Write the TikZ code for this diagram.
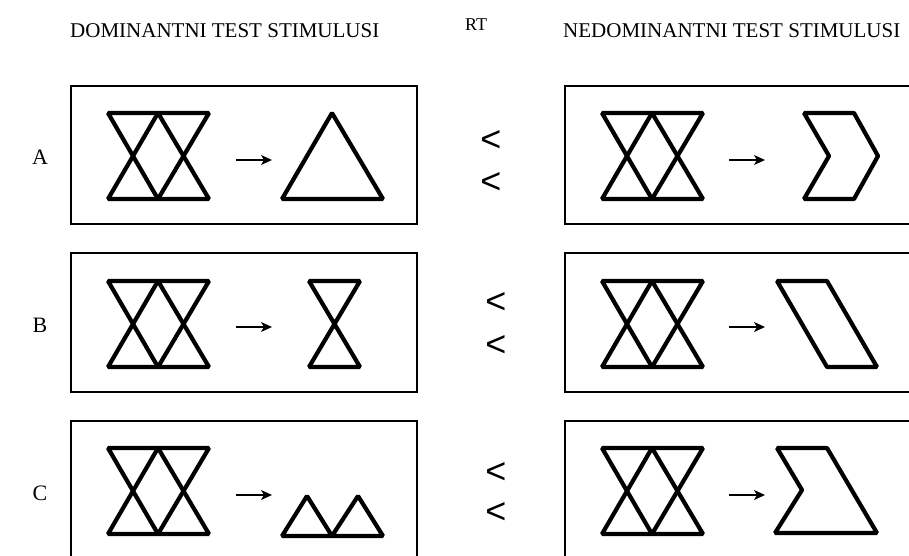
\documentclass[tikz,border=0pt]{standalone}
\usepackage{fontspec}
\setmainfont{Liberation Serif}
\newfontfamily\arialfont{Liberation Sans}
\usetikzlibrary{arrows.meta}
\tikzset{
  frame/.style={draw=black, line width=1.4pt},
  fig/.style={draw=black, line width=4.2pt, line join=bevel},
  conn/.style={draw=black, line width=1.3pt, -{Stealth[length=11pt,width=10pt,inset=3pt]}},
  head/.style={inner sep=0pt, anchor=base west, font=\fontsize{21}{25}\selectfont},
  rowlab/.style={inner sep=0pt, font=\fontsize{22}{26}\selectfont},
  lt/.style={inner sep=0pt, font=\arialfont\fontsize{36}{40}\selectfont},
}
\begin{document}
\begin{tikzpicture}[x=1pt,y=-1pt]
\useasboundingbox (0,0) rectangle (909,555);
\clip (0,0) rectangle (909,555);
% headers
\node[head] (h1) at (70,37) {DOMINANTNI TEST STIMULUSI};
\node[head, font=\fontsize{18}{21}\selectfont] (h2) at (465,30) {RT};
\node[head] (h3) at (563,37) {NEDOMINANTNI TEST STIMULUSI};
% row labels
\node[rowlab] (la) at (40,157) {A};
\node[rowlab] (lb) at (40,325) {B};
\node[rowlab] (lc) at (40,493) {C};
% boxes
\foreach \t/\b in {86/224, 253/392, 421/560}{
  \draw[frame] (71,\t) rectangle (417,\b);
  \draw[frame] (565,\t) rectangle (960,\b);
}
% hourglass double figures
\foreach \d in {0,168,335}{
  \begin{scope}[yshift=-\d pt]
    \draw[fig] (108,113) -- (209,113) -- (158,199) -- cycle;
    \draw[fig] (108,199) -- (209,199) -- (158,113) -- cycle;
    \draw[fig] (602,113) -- (703,113) -- (652,199) -- cycle;
    \draw[fig] (602,199) -- (703,199) -- (652,113) -- cycle;
  \end{scope}
}
% arrows
\foreach \y/\n in {160/a,327/b,495/c}{
  \coordinate (ls\n) at (236,\y); \coordinate (le\n) at (272,\y);
  \coordinate (rs\n) at (729,\y); \coordinate (re\n) at (765,\y);
  \draw[conn] (ls\n) -- (le\n);
  \draw[conn] (rs\n) -- (re\n);
}
% targets, dominant
\draw[fig] (282,199) -- (383,199) -- (332,113) -- cycle;
\draw[fig] (309,281) -- (360,281) -- (309,367) -- (360,367) -- cycle;
\draw[fig] (282,536) -- (307,496) -- (332,536) -- (358,496) -- (383,536) -- cycle;
% targets, nondominant
\draw[fig] (804,113) -- (854,113) -- (878,156) -- (854,199) -- (804,199) -- (829,156) -- cycle;
\draw[fig] (777,281) -- (827,281) -- (877,367) -- (827,367) -- cycle;
\draw[fig] (777,448) -- (827,448) -- (877,533) -- (775,533) -- (802,490) -- cycle;
% less-than signs
\node[lt] (a1) at (491,141) {<};
\node[lt] (a2) at (491,183) {<};
\node[lt] (b1) at (496,303) {<};
\node[lt] (b2) at (496,346) {<};
\node[lt] (c1) at (496,473) {<};
\node[lt] (c2) at (496,513) {<};
\end{tikzpicture}
\end{document}
